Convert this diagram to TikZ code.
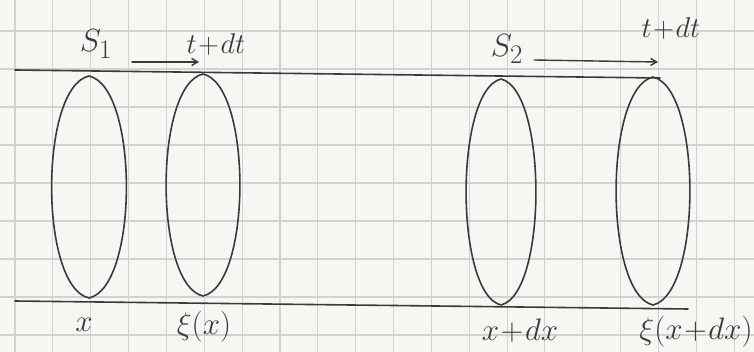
\documentclass[tikz,border=0pt]{standalone}
\usetikzlibrary{arrows.meta}
\definecolor{paper}{HTML}{F6F6F3}
\definecolor{gridc}{HTML}{D2D2D0}
\definecolor{ink}{HTML}{3A3A3A}
\tikzset{
  pen/.style={draw=ink, line width=1.6pt, line cap=round, line join=round},
  arrowpen/.style={pen, line width=1.4pt, -{Straight Barb[length=6pt,width=7pt]}},
  gridline/.style={draw=gridc, line width=1.1pt},
  lbl/.style={text=ink, inner sep=0pt, font=\Huge},
  slbl/.style={lbl, scale=1.29},
  toplbl/.style={lbl, scale=1.15},
  botlbl/.style={lbl, scale=1.25},
}
\begin{document}
\begin{tikzpicture}[x=1pt,y=-1pt]
\useasboundingbox (0,0) rectangle (754,352);
\fill[paper] (0,0) rectangle (754,352);
% grid paper
\foreach \k in {0,...,19} {
  \draw[gridline] ({15+37.85*\k},0) -- ({15+37.85*\k},352);
}
\foreach \k in {0,...,8} {
  \draw[gridline] (0,{31+38*\k}) -- (754,{31+38*\k});
}
% boundary lines
\coordinate (tl) at (15,70);
\coordinate (tr) at (660,78);
\coordinate (bl) at (15,301);
\coordinate (br) at (688,309);
\draw[pen] (tl) -- (tr);
\draw[pen] (bl) -- (br);
% cross sections (lens shapes)
\foreach \cx/\tp/\bt/\hw in {89/76/298/37.5, 203/74/296/37, 501/79/305/35, 653/77/305/37} {
  \draw[pen] (\cx,\tp)
    .. controls ({\cx+1.33*\hw},{\tp+0.05*(\bt-\tp)}) and ({\cx+1.33*\hw},{\bt-0.05*(\bt-\tp)}) .. (\cx,\bt)
    .. controls ({\cx-1.33*\hw},{\bt-0.05*(\bt-\tp)}) and ({\cx-1.33*\hw},{\tp+0.05*(\bt-\tp)}) .. (\cx,\tp);
}
% arrows
\coordinate (a1s) at (132,62);
\coordinate (a1e) at (199,62);
\coordinate (a2s) at (534,60);
\coordinate (a2e) at (658,62);
\draw[arrowpen] (a1s) -- (a1e);
\draw[arrowpen] (a2s) -- (a2e);
% labels
\node[slbl] (s1) at (96,44) {$S_1$};
\node[toplbl] (t1) at (216,44) {$t\!+\!dt$};
\node[slbl] (s2) at (507,49) {$S_2$};
\node[toplbl] (t2) at (671,28) {$t\!+\!dt$};
\node[botlbl] (x1) at (84,325) {$x$};
\node[botlbl] (x2) at (204,327) {$\xi(x)$};
\node[botlbl] (x3) at (520,331) {$x\!+\!dx$};
\node[botlbl] (x4) at (696,332) {$\xi(x\!+\!dx)$};
\end{tikzpicture}
\end{document}
